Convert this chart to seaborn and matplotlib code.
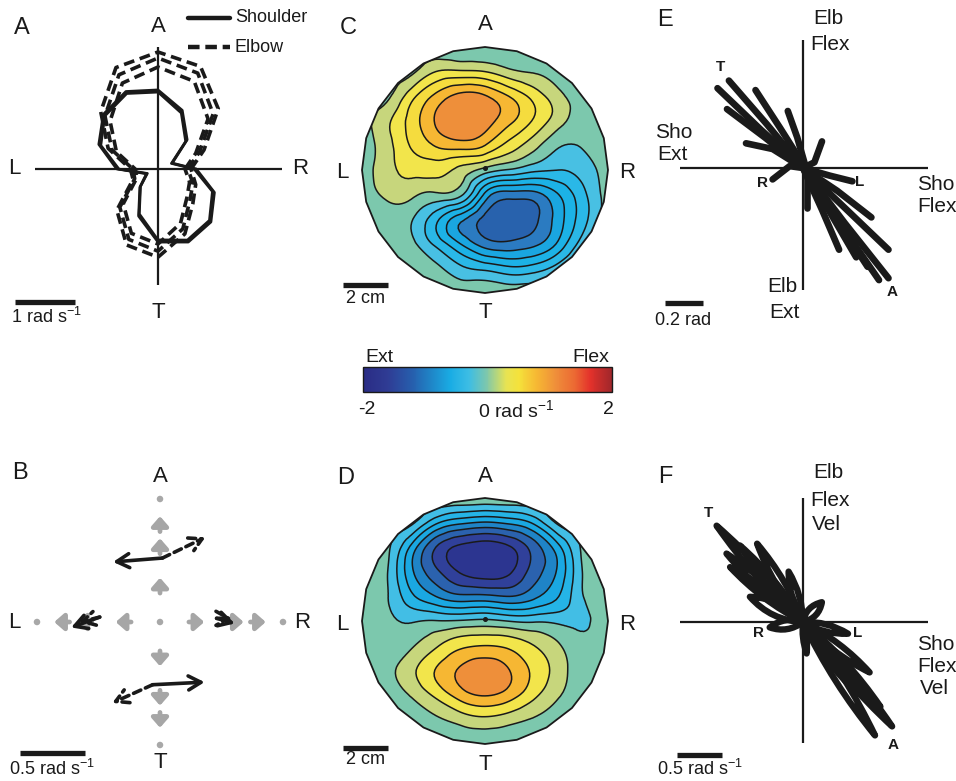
import numpy as np
import pandas as pd
import matplotlib
matplotlib.use("Agg")
import matplotlib.pyplot as plt
import matplotlib.tri as mtri
import seaborn as sns
from matplotlib.patches import Polygon, FancyArrowPatch, PathPatch
from matplotlib.path import Path
from matplotlib.lines import Line2D
from matplotlib.colors import LinearSegmentedColormap, Normalize
from matplotlib.cm import ScalarMappable

sns.set_theme(style="white")
plt.rcParams['font.family'] = ['Liberation Sans', 'DejaVu Sans']
plt.rcParams['mathtext.fontset'] = 'custom'
plt.rcParams['mathtext.rm'] = 'Liberation Sans'
plt.rcParams['mathtext.it'] = 'Liberation Sans:italic'
plt.rcParams['mathtext.bf'] = 'Liberation Sans:bold'
plt.rcParams['contour.negative_linestyle'] = 'solid'

# ---------------- DATA ----------------
# Panel A: peak joint speed (rad/s) per movement direction (deg, 0 = R, 90 = A)
direction_deg = [0, 22.5, 45, 67.5, 90, 112.5, 135, 157.5, 180, 202.5, 225, 247.5, 270, 292.5, 315, 337.5]
shoulder_speed = [
    [0.62, 0.25, 0.67, 1.03, 1.30, 1.38, 1.27, 1.05, 0.67, 0.20, 0.42, 0.83, 1.20, 1.30, 1.23, 1.00],
    [0.64, 0.26, 0.69, 1.06, 1.32, 1.40, 1.29, 1.07, 0.69, 0.21, 0.43, 0.85, 1.22, 1.32, 1.25, 1.02],
    [0.60, 0.24, 0.65, 1.01, 1.28, 1.36, 1.25, 1.03, 0.65, 0.19, 0.41, 0.81, 1.18, 1.28, 1.21, 0.98],
]
elbow_speed = [
    [0.50, 0.75, 1.30, 1.73, 1.85, 1.70, 1.25, 0.83, 0.42, 0.42, 0.90, 1.27, 1.37, 1.08, 0.75, 0.63],
    [0.55, 0.83, 1.42, 1.85, 1.95, 1.83, 1.35, 0.90, 0.46, 0.45, 0.97, 1.37, 1.47, 1.17, 0.82, 0.68],
    [0.45, 0.68, 1.18, 1.58, 1.70, 1.55, 1.13, 0.75, 0.38, 0.38, 0.82, 1.16, 1.25, 0.98, 0.68, 0.57],
]

# Panel B: targets (workspace units), gray path arrows, black velocity arrows (rad/s)
target_x = [0, 0, 0, -1, 1]
target_y = [1, 0, -1, 0, 0]
gray_arrow_r = [0.30, 0.62, 0.80]
arrow_origin_x = [0.02, -0.06, -0.49, 0.46]
arrow_origin_y = [0.52, -0.51, 0.04, 0.03]
sho_vel_x = [-0.38, 0.40, -0.22, 0.14]
sho_vel_y = [-0.03, 0.02, -0.08, -0.04]
elb_vel_x = [0.33, -0.31, -0.16, 0.12]
elb_vel_y = [0.16, -0.14, -0.04, 0.00]

# Panels C, D: velocity maps over the workspace disk (rows from A (top) to T (bottom))
grid_pos = [-1.0, -0.8, -0.6, -0.4, -0.2, 0.0, 0.2, 0.4, 0.6, 0.8, 1.0]
workspace_radius_cm = 5.5
c_values = [
    [0, 0, 0, -0.05, -0.08, -0.08, -0.05, 0, 0, 0, 0],
    [0, 0, 0.05, 0.30, 0.33, 0.30, 0.15, 0.08, 0, 0, 0],
    [0, 0.05, 0.42, 0.75, 0.97, 0.92, 0.69, 0.42, 0.16, 0, 0],
    [0, 0.25, 0.58, 0.92, 1.08, 1.00, 0.75, 0.47, 0.18, 0, 0],
    [0, 0.22, 0.52, 0.72, 0.80, 0.70, 0.42, 0.17, -0.08, -0.08, 0],
    [0, 0.22, 0.36, 0.38, 0.24, 0.02, -0.12, -0.25, -0.30, -0.20, 0],
    [0, 0.14, 0.15, 0.06, -0.05, -0.75, -1.00, -0.98, -0.70, -0.35, 0],
    [0, 0, -0.08, -0.44, -0.84, -1.15, -1.25, -1.15, -0.79, -0.37, 0],
    [0, 0, -0.05, -0.35, -0.70, -1.00, -1.05, -0.95, -0.65, -0.20, 0],
    [0, 0, 0, -0.05, -0.25, -0.35, -0.45, -0.40, -0.20, 0, 0],
    [0, 0, 0, 0, 0.05, 0.05, 0.05, 0.05, 0, 0, 0],
]
d_values = [
    [0, 0, 0, 0.05, 0.08, 0.08, 0.08, 0.05, 0, 0, 0],
    [0, 0, -0.05, -0.45, -0.65, -0.72, -0.65, -0.45, -0.05, 0, 0],
    [0, -0.05, -0.55, -1.10, -1.35, -1.42, -1.32, -1.00, -0.55, -0.05, 0],
    [0, -0.08, -0.65, -1.05, -1.32, -1.42, -1.33, -1.00, -0.65, -0.08, 0],
    [0, -0.08, -0.45, -0.70, -0.85, -0.85, -0.90, -0.75, -0.50, -0.10, 0],
    [0, -0.05, -0.12, -0.09, -0.08, -0.05, -0.11, -0.13, -0.15, -0.13, 0],
    [0, -0.02, 0.07, 0.27, 0.45, 0.50, 0.45, 0.30, 0.12, -0.05, 0],
    [0, 0.05, 0.24, 0.51, 0.73, 0.85, 0.70, 0.45, 0.20, -0.02, 0],
    [0, 0, 0.12, 0.35, 0.60, 0.72, 0.60, 0.35, 0.12, 0, 0],
    [0, 0, 0, 0.07, 0.18, 0.25, 0.18, 0.08, 0, 0, 0],
    [0, 0, 0, 0, -0.05, -0.05, -0.05, 0, 0, 0, 0],
]
c_levels = [-3, -1.1, -0.9, -0.7, -0.5, -0.3, -0.1, 0.1, 0.3, 0.5, 0.7, 0.9, 3]
c_colors = ['#2862ad', '#2b7bc1', '#1aa6e0', '#1cb2e6', '#2ab8e7', '#48c0e3',
            '#7cc8ad', '#c7d67c', '#f2e54b', '#f5dc3e', '#f6b733', '#ee8f3a']
d_levels = [-3, -1.3, -1.1, -0.9, -0.7, -0.5, -0.3, -0.1, 0.1, 0.3, 0.5, 0.7, 3]
d_colors = ['#2c3590', '#30409a', '#2b62ae', '#1f84c7', '#1aa8e2', '#25b4e6', '#42bee5',
            '#7cc8ad', '#c7d67c', '#f2e54b', '#f6b733', '#ee8f3a']

# Colorbar (rad/s -> colour)
cbar_values = [-2.0, -1.6, -1.2, -0.9, -0.6, -0.3, 0.0, 0.3, 0.5, 0.8, 1.1, 1.4, 1.65, 2.0]
cbar_colors = ['#2a2c85', '#2f3c94', '#2660ae', '#1f86c8', '#19ace4', '#3dbde4', '#82c8a8',
               '#e7e353', '#f5e23b', '#f6b733', '#ef8e3a', '#ec6a33', '#e4322b', '#a1272b']

# Panel E: joint angle trajectories (rad), shoulder (x) vs elbow (y)
e_sho = [
    [0, -0.22, -0.45], [0, -0.19, -0.39], [0, -0.12, -0.25], [0, -0.20, -0.40],
    [0.01, -0.03, -0.08], [0, -0.16, -0.30], [0, 0.06, 0.10], [0, -0.07, -0.16],
    [0, 0.14, 0.26], [0, 0.18, 0.36], [0, 0.22, 0.45], [0, 0.22, 0.45],
    [0, 0.20, 0.40], [0, 0.17, 0.34], [0, 0.14, 0.28], [0, 0.10, 0.19], [0.02, 0.02, 0.02],
]
e_elb = [
    [0, 0.20, 0.42], [0, 0.23, 0.46], [0.02, 0.21, 0.41], [0, 0.16, 0.31],
    [0.02, 0.16, 0.30], [0, 0.10, 0.13], [0, 0.03, 0.14], [0, 0.01, -0.06],
    [0, -0.04, -0.07], [0, -0.12, -0.26], [0, -0.21, -0.43], [0, -0.29, -0.58],
    [0, -0.30, -0.59], [0, -0.26, -0.52], [0, -0.23, -0.47], [0, -0.22, -0.43], [0, -0.10, -0.21],
]

# Panel F: joint velocity loops (rad/s): tip of each loop and loop half-width
f_sho = [-0.96, -0.85, -0.51, -0.81, -0.16, -0.59, 0.21, -0.37, 0.50, 0.74, 0.60, 0.86, 0.99, 0.80, 0.04, 0.70, -0.70]
f_elb = [1.07, 0.76, 0.87, 0.61, 0.56, 0.28, 0.22, -0.06, -0.13, -0.56, -0.78, -0.94, -1.16, -1.26, -0.35, -0.86, 0.85]
f_width = [0.045, 0.045, 0.045, 0.045, 0.04, 0.07, 0.05, 0.05, 0.04, 0.045, 0.045, 0.045, 0.045, 0.045, 0.02, 0.045, 0.045]

# ---------------- FIGURE ----------------
W, H = 956, 781
fig = plt.figure(figsize=(W / 100, H / 100), dpi=100)


def make_panel(box, center, scale):
    left, top, width, height = box
    cx, cy = center
    ax = fig.add_axes([left / W, 1 - (top + height) / H, width / W, height / H])
    lims = ((left - cx) / scale, (left + width - cx) / scale,
            (cy - top - height) / scale, (cy - top) / scale)

    def fix():
        ax.set_xlim(lims[0], lims[1])
        ax.set_ylim(lims[2], lims[3])
        ax.set_axis_off()
    fix()
    tx = lambda px: (px - cx) / scale
    ty = lambda py: (cy - py) / scale
    return ax, tx, ty, fix


def ftext(px, py, s, size, **kw):
    ha = kw.pop('ha', 'center')
    va = kw.pop('va', 'center')
    fig.text(px / W, 1 - py / H, s, fontsize=size, ha=ha, va=va, color='k', **kw)


def cross(ax, tx, ty, x0, x1, y0, y1, lw=1.6):
    ax.plot([tx(x0), tx(x1)], [0, 0], color='k', lw=lw, solid_capstyle='butt', clip_on=False)
    ax.plot([0, 0], [ty(y0), ty(y1)], color='k', lw=lw, solid_capstyle='butt', clip_on=False)


def scalebar(ax, tx, ty, px0, py, length):
    ax.plot([tx(px0), tx(px0) + length], [ty(py), ty(py)], color='k', lw=3.8,
            solid_capstyle='butt', clip_on=False)


LAB = 16
LET = 17
SMALL = 13

# ---- Panel A ----
ax_a, tx, ty, fix_a = make_panel((0, 0, 320, 335), (158, 169), 60)
cross(ax_a, tx, ty, 35, 282, 47, 285)
rows = []
for joint, trials in (('Shoulder', shoulder_speed), ('Elbow', elbow_speed)):
    for t, speeds in enumerate(trials):
        ang = np.deg2rad(direction_deg + [direction_deg[0]])
        r = np.array(speeds + [speeds[0]])
        for k in range(len(r)):
            rows.append(dict(x=r[k] * np.cos(ang[k]), y=r[k] * np.sin(ang[k]),
                             joint=joint, trial=f'{joint}{t}'))
df_a = pd.DataFrame(rows)
sns.lineplot(data=df_a[df_a.joint == 'Shoulder'], x='x', y='y', units='trial', estimator=None,
             sort=False, color='k', lw=1.8, legend=False, ax=ax_a)
sns.lineplot(data=df_a[df_a.joint == 'Elbow'], x='x', y='y', units='trial', estimator=None,
             sort=False, color='k', lw=2.6, linestyle=(0, (3.0, 1.6)), legend=False, ax=ax_a)
fix_a()
scalebar(ax_a, tx, ty, 15, 302, 1.0)
ftext(22, 28, 'A', LET)
ftext(158, 26, 'A', LAB)
ftext(14, 169, 'L', LAB)
ftext(300, 169, 'R', LAB)
ftext(158, 312, 'T', LAB)
ftext(46, 317, r'1 rad s$^{\mathregular{-1}}$', SMALL)
fig.add_artist(Line2D([188 / W, 230 / W], [1 - 18 / H] * 2, color='k', lw=3.2))
fig.add_artist(Line2D([188 / W, 230 / W], [1 - 47 / H] * 2, color='k', lw=3.2, ls=(0, (2.6, 1.3))))
ftext(235, 18, 'Shoulder', SMALL, ha='left')
ftext(235, 47, 'Elbow', SMALL, ha='left')

# ---- Panel B ----
ax_b, tx, ty, fix_b = make_panel((0, 445, 320, 336), (160, 622), 123)
vel_scale = 130 / 123
sns.scatterplot(x=target_x, y=target_y, color='#a8a8a8', s=22, edgecolor='none', ax=ax_b,
                legend=False)
for ux, uy in ((0, 1), (0, -1), (-1, 0), (1, 0)):
    for r in gray_arrow_r:
        a = FancyArrowPatch((ux * (r - 0.065), uy * (r - 0.065)), (ux * (r + 0.06), uy * (r + 0.06)),
                            arrowstyle='-|>,head_length=0.4,head_width=0.35', mutation_scale=14,
                            lw=3.4, color='#a6a6a6', shrinkA=0, shrinkB=0, zorder=2)
        ax_b.add_patch(a)
for ox, oy, sx, sy, ex, ey in zip(arrow_origin_x, arrow_origin_y, sho_vel_x, sho_vel_y,
                                  elb_vel_x, elb_vel_y):
    ax_b.add_patch(FancyArrowPatch((ox, oy), (ox + sx * vel_scale, oy + sy * vel_scale),
                                   arrowstyle='->,head_length=0.5,head_width=0.28', mutation_scale=18,
                                   lw=2.6, color='k', shrinkA=0, shrinkB=0, zorder=4))
    ax_b.add_patch(FancyArrowPatch((ox, oy), (ox + ex * vel_scale, oy + ey * vel_scale),
                                   arrowstyle='->,head_length=0.5,head_width=0.28', mutation_scale=18,
                                   lw=2.6, color='k', linestyle=(0, (2.2, 1.4)), shrinkA=0,
                                   shrinkB=0, zorder=4))
fix_b()
scalebar(ax_b, tx, ty, 20, 753, 0.5 * vel_scale)
ftext(20, 473, 'B', LET)
ftext(160, 477, 'A', LAB)
ftext(14, 623, 'L', LAB)
ftext(302, 623, 'R', LAB)
ftext(160, 763, 'T', LAB)
ftext(52, 769, r'0.5 rad s$^{\mathregular{-1}}$', SMALL)

# ---- Panels C and D ----
disk_ang = np.deg2rad(90 + 15 * np.arange(24))
disk = np.column_stack([np.cos(disk_ang), np.sin(disk_ang)])
grid_y = grid_pos[::-1]
GX, GY = np.meshgrid(grid_pos, grid_y)
base_tri = mtri.Triangulation(GX.ravel(), GY.ravel())
refiner = mtri.UniformTriRefiner(base_tri)


def contour_panel(box, center, values, levels, colors):
    ax, tx, ty, fix = make_panel(box, center, 123)
    Z = np.array(values, dtype=float).ravel()
    tri_f, z_f = refiner.refine_field(Z, subdiv=3)
    cs = ax.tricontourf(tri_f, z_f, levels=levels, colors=colors, antialiased=True)
    cl = ax.tricontour(tri_f, z_f, levels=levels[1:-1], colors='k', linewidths=1.1,
                       linestyles='solid')
    poly = Polygon(disk, closed=True, facecolor='none', edgecolor='k', lw=1.3, zorder=5)
    ax.add_patch(poly)
    cs.set_clip_path(poly)
    cl.set_clip_path(poly)
    ax.plot(0, 0.02, 'o', ms=2.6, color='k', zorder=6)
    fix()
    return ax, tx, ty


ax_c, tx, ty = contour_panel((330, 40, 310, 265), (485, 170), c_values, c_levels, c_colors)
scalebar(ax_c, tx, ty, 343, 285, 2 / workspace_radius_cm)
ftext(348, 28, 'C', LET)
ftext(485, 25, 'A', LAB)
ftext(342, 173, 'L', LAB)
ftext(627, 173, 'R', LAB)
ftext(485, 312, 'T', LAB)
ftext(366, 298, '2 cm', SMALL)

ax_d, tx, ty = contour_panel((330, 490, 310, 265), (485, 621), d_values, d_levels, d_colors)
scalebar(ax_d, tx, ty, 343, 748, 2 / workspace_radius_cm)
ftext(346, 478, 'D', LET)
ftext(485, 477, 'A', LAB)
ftext(342, 625, 'L', LAB)
ftext(627, 625, 'R', LAB)
ftext(485, 765, 'T', LAB)
ftext(366, 760, '2 cm', SMALL)

# ---- Colorbar ----
cmap = LinearSegmentedColormap.from_list(
    'extflex', [((v + 2) / 4, c) for v, c in zip(cbar_values, cbar_colors)])
cax = fig.add_axes([363 / W, 1 - 392 / H, 249 / W, 25 / H])
cb = fig.colorbar(ScalarMappable(norm=Normalize(-2, 2), cmap=cmap), cax=cax,
                  orientation='horizontal', ticks=[0])
cax.xaxis.set_ticks_position('both')
cax.tick_params(axis='x', length=2.5, width=1, direction='in', labelbottom=False, labeltop=False,
                color='k')
cb.outline.set_linewidth(1.0)
cb.outline.set_edgecolor('k')
ftext(379, 357, 'Ext', 14)
ftext(591, 357, 'Flex', 14)
ftext(367, 410, '-2', 14)
ftext(516, 410, r'0 rad s$^{\mathregular{-1}}$', 14)
ftext(608, 410, '2', 14)

# ---- Panel E ----
ax_e, tx, ty, fix_e = make_panel((645, 0, 311, 335), (803, 168), 190)
cross(ax_e, tx, ty, 680, 928, 40, 290)
rows = []
for m, (xs, ys) in enumerate(zip(e_sho, e_elb)):
    for k, (xv, yv) in enumerate(zip(xs, ys)):
        rows.append(dict(sho=xv, elb=yv, move=m))
df_e = pd.DataFrame(rows)
sns.lineplot(data=df_e, x='sho', y='elb', units='move', estimator=None, sort=False, color='k',
             lw=4.8, solid_capstyle='round', legend=False, ax=ax_e)
fix_e()
scalebar(ax_e, tx, ty, 665, 303, 0.2)
ftext(665, 20, 'E', LET)
ftext(828, 18, 'Elb', 15)
ftext(830, 45, 'Flex', 15)
ftext(674, 132, 'Sho', 15)
ftext(672, 155, 'Ext', 15)
ftext(936, 185, 'Sho', 15)
ftext(937, 207, 'Flex', 15)
ftext(782, 287, 'Elb', 15)
ftext(784, 312, 'Ext', 15)
ftext(683, 320, '0.2 rad', SMALL)
for s, px, py in (('T', 720, 67), ('R', 762, 183), ('L', 860, 182), ('A', 892, 292)):
    ftext(px, py, s, 11, fontweight='bold')

# ---- Panel F ----
ax_f, tx, ty, fix_f = make_panel((645, 445, 311, 336), (803, 622), 90)
cross(ax_f, tx, ty, 680, 928, 498, 743)
for xt, yt, w in zip(f_sho, f_elb, f_width):
    L = np.hypot(xt, yt)
    nx, ny = -yt / L, xt / L
    mx, my = xt / 2, yt / 2
    verts = [(0, 0), (mx + 2 * w * nx, my + 2 * w * ny), (xt, yt),
             (mx - 2 * w * nx, my - 2 * w * ny), (0, 0)]
    codes = [Path.MOVETO, Path.CURVE3, Path.CURVE3, Path.CURVE3, Path.CURVE3]
    ax_f.add_patch(PathPatch(Path(verts, codes), fill=False, lw=4.6, ec='k',
                             joinstyle='round', capstyle='round', zorder=3))
fix_f()
scalebar(ax_f, tx, ty, 677, 755, 0.5)
ftext(665, 477, 'F', LET)
ftext(828, 473, 'Elb', 15)
ftext(830, 500, 'Flex', 15)
ftext(826, 525, 'Vel', 15)
ftext(936, 645, 'Sho', 15)
ftext(937, 667, 'Flex', 15)
ftext(934, 689, 'Vel', 15)
ftext(700, 769, r'0.5 rad s$^{\mathregular{-1}}$', SMALL)
for s, px, py in (('T', 708, 513), ('R', 758, 633), ('L', 858, 633), ('A', 893, 745)):
    ftext(px, py, s, 11, fontweight='bold')

fig.savefig('out.png', dpi=100)
